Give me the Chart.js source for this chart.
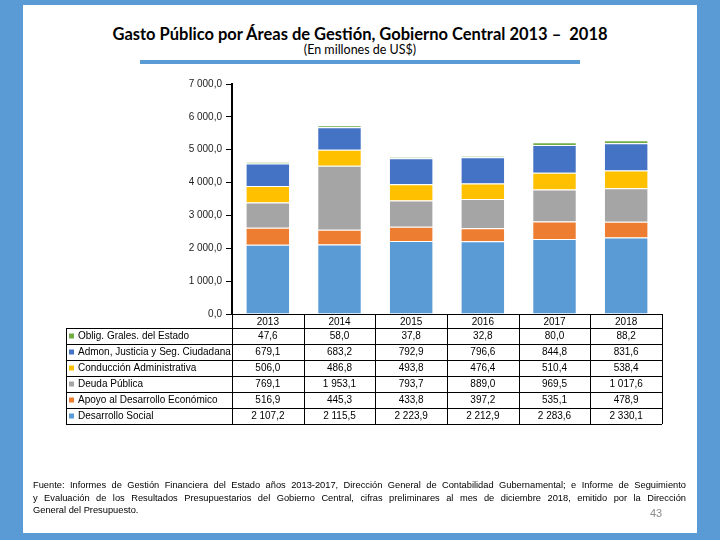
<!DOCTYPE html>
<html>
<head>
<meta charset="utf-8">
<script src="https://cdn.jsdelivr.net/npm/chart.js@4/dist/chart.umd.min.js"></script>
<style>
    html, body { margin: 0; padding: 0; }
    body { width: 720px; height: 540px; background: #5b9bd5; position: relative; overflow: hidden; }
    .slide { position: absolute; left: 23px; top: 5px; width: 674px; height: 528px; background: #fff; }
    .title { position: absolute; left: 0; top: 24px; width: 720px; text-align: center;
             font: bold 16.5px Lato, "Liberation Sans", sans-serif; color: #000; }
    .subtitle { position: absolute; left: 0; top: 42px; width: 720px; text-align: center;
                font: 12.5px Lato, "Liberation Sans", sans-serif; color: #000; }
    .rule { position: absolute; left: 140px; top: 60px; width: 440px; height: 4px; background: #5b9bd5; }
    .source { position: absolute; left: 33px; top: 479px; width: 653px;
              font: 9.3px "Liberation Sans", Arial, sans-serif; color: #000; line-height: 12.5px; }
    .source div { text-align: justify; text-align-last: justify; }
    .source div.last { text-align-last: left; }
    .page { position: absolute; left: 650px; top: 507px; font: 11px "Liberation Sans", Arial, sans-serif; color: #8c8c8c; }
    canvas { position: absolute; left: 0; top: 0; }
</style>
</head>
<body>
<div class="slide"></div>
<div class="title">Gasto Público por Áreas de Gestión, Gobierno Central 2013 –&nbsp; 2018</div>
<div class="subtitle">(En millones de US$)</div>
<div class="rule"></div>
<canvas id="gastoChart" width="720" height="540"></canvas>
<div class="source">
    <div>Fuente: Informes de Gestión Financiera del Estado años 2013-2017, Dirección General de Contabilidad Gubernamental; e Informe de Seguimiento</div>
    <div>y Evaluación de los Resultados Presupuestarios del Gobierno Central, cifras preliminares al mes de diciembre 2018, emitido por la Dirección</div>
    <div class="last">General del Presupuesto.</div>
</div>
<div class="page">43</div>

<script>
// ========== DATA ==========
const years = ['2013', '2014', '2015', '2016', '2017', '2018'];

const desarrolloSocial = [2107.2, 2115.5, 2223.9, 2212.9, 2283.6, 2330.1];
const apoyoDesarrollo  = [516.9, 445.3, 433.8, 397.2, 535.1, 478.9];
const deudaPublica     = [769.1, 1953.1, 793.7, 889.0, 969.5, 1017.6];
const conduccionAdmin  = [506.0, 486.8, 493.8, 476.4, 510.4, 538.4];
const admonJusticia    = [679.1, 683.2, 792.9, 796.6, 844.8, 831.6];
const obligGrales      = [47.6, 58.0, 37.8, 32.8, 80.0, 88.2];

const seriesNames = [
    'Desarrollo Social',
    'Apoyo al Desarrollo Económico',
    'Deuda Pública',
    'Conducción Administrativa',
    'Admon, Justicia y Seg. Ciudadana',
    'Oblig. Grales. del Estado'
];
const seriesColors = ['#5b9bd5', '#ed7d31', '#a5a5a5', '#ffc000', '#4472c4', '#70ad47'];
const seriesValues = [desarrolloSocial, apoyoDesarrollo, deudaPublica, conduccionAdmin, admonJusticia, obligGrales];

// "2 107,2" style numbers
function fmt(v) {
    const parts = v.toFixed(1).split('.');
    return parts[0].replace(/\B(?=(\d{3})+(?!\d))/g, ' ') + ',' + parts[1];
}

// ========== DATA TABLE PLUGIN ==========
const tablePlugin = {
    id: 'dataTable',
    afterDraw(chart) {
        const ctx = chart.ctx;
        const x = chart.scales.x;
        const area = chart.chartArea;
        const colW = x.getPixelForValue(1) - x.getPixelForValue(0);
        const left = area.left, right = area.right;
        const top = area.bottom;
        const headH = 14, rowH = 16, labelLeft = 66;
        const rowsTop = top + headH;
        const bottom = rowsTop + rowH * seriesNames.length;

        ctx.save();
        ctx.strokeStyle = '#000';
        ctx.lineWidth = 1;
        ctx.beginPath();
        // header top line
        ctx.moveTo(left, top + 0.5); ctx.lineTo(right, top + 0.5);
        // row lines
        for (let r = 0; r <= seriesNames.length; r++) {
            const y = Math.round(rowsTop + r * rowH) + 0.5;
            ctx.moveTo(labelLeft, y); ctx.lineTo(right, y);
        }
        // column lines
        for (let c = 0; c <= years.length; c++) {
            const cx = Math.round(left + c * colW) + 0.5;
            ctx.moveTo(cx, top); ctx.lineTo(cx, bottom);
        }
        ctx.moveTo(labelLeft + 0.5, rowsTop); ctx.lineTo(labelLeft + 0.5, bottom);
        ctx.stroke();

        ctx.font = '10px "Liberation Sans", Arial, sans-serif';
        ctx.fillStyle = '#000';
        ctx.textBaseline = 'middle';
        ctx.textAlign = 'center';
        years.forEach((yr, i) => ctx.fillText(yr, x.getPixelForValue(i), top + headH / 2 + 1));

        // rows listed top-down: last series first
        for (let r = 0; r < seriesNames.length; r++) {
            const s = seriesNames.length - 1 - r;
            const cy = rowsTop + r * rowH + rowH / 2 + 0.5;
            ctx.fillStyle = seriesColors[s];
            ctx.fillRect(69, cy - 3, 5, 5);
            ctx.fillStyle = '#000';
            ctx.textAlign = 'left';
            ctx.fillText(seriesNames[s], 78, cy);
            ctx.textAlign = 'center';
            seriesValues[s].forEach((v, i) => ctx.fillText(fmt(v), x.getPixelForValue(i), cy));
        }
        ctx.restore();
    }
};

// ========== CHART ==========
const ctx = document.getElementById('gastoChart').getContext('2d');
new Chart(ctx, {
    type: 'bar',
    data: {
        labels: years,
        datasets: seriesNames.map((name, i) => ({
            label: name,
            data: seriesValues[i],
            backgroundColor: seriesColors[i],
            borderColor: '#fff',
            borderWidth: 1,
            borderSkipped: 'bottom',
            barPercentage: 0.62,
            categoryPercentage: 1
        }))
    },
    options: {
        responsive: false,
        animation: false,
        layout: { padding: { left: 172, right: 58, top: 84, bottom: 226 } },
        plugins: { legend: { display: false }, tooltip: { enabled: false } },
        scales: {
            x: { stacked: true, display: false },
            y: {
                stacked: true,
                min: 0,
                max: 7000,
                ticks: {
                    stepSize: 1000,
                    padding: 4,
                    color: '#222',
                    font: { family: '"Liberation Sans", Arial, sans-serif', size: 10 },
                    callback: v => fmt(v)
                },
                grid: { drawOnChartArea: false, tickLength: 6, color: '#000', lineWidth: 1 },
                border: { display: true, color: '#000', width: 2 },
                afterFit: scale => { scale.width = 60; }
            }
        }
    },
    plugins: [tablePlugin]
});
</script>
</body>
</html>
